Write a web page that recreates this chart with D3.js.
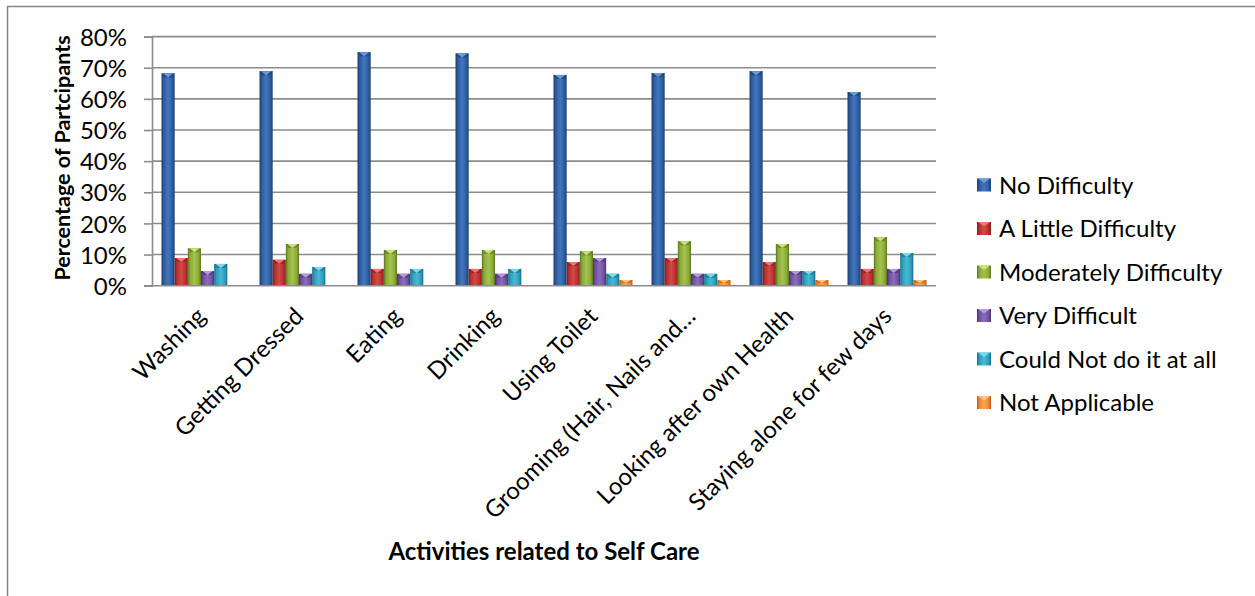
<!DOCTYPE html>
<html><head><meta charset="utf-8">
<script src="https://cdn.jsdelivr.net/npm/d3@7"></script>
<style>
html,body{margin:0;padding:0;background:#fff;}
svg{display:block;font-family:Lato,"Open Sans",sans-serif;}
</style></head>
<body><svg id="chart" width="1255" height="596"></svg>
<script>
const categories = ["Washing","Getting Dressed","Eating","Drinking","Using Toilet","Grooming (Hair, Nails and…","Looking after own Health","Staying alone for few days"];
const seriesNames = ["No Difficulty","A Little Difficulty","Moderately Difficulty","Very Difficult","Could Not do it at all","Not Applicable"];
const noDifficulty      = [68.2, 68.9, 75.0, 74.6, 67.7, 68.3, 68.9, 62.2];
const littleDifficulty  = [8.9, 8.3, 5.4, 5.4, 7.6, 8.9, 7.6, 5.4];
const moderateDifficulty= [12.0, 13.4, 11.5, 11.5, 11.1, 14.3, 13.4, 15.6];
const veryDifficult     = [4.7, 3.8, 3.8, 3.8, 8.9, 3.8, 4.7, 5.4];
const couldNot          = [7.0, 6.0, 5.4, 5.4, 3.8, 3.8, 4.7, 10.5];
const notApplicable     = [0, 0, 0, 0, 1.8, 1.8, 1.8, 1.8];
const yTicks = [0,10,20,30,40,50,60,70,80];
const seriesValues = [noDifficulty, littleDifficulty, moderateDifficulty, veryDifficult, couldNot, notApplicable];

const colors = [
  {base:"#2D5D9E", light:"#4377BE", dark:"#1C3E6E", top:"#6C9BDB"},
  {base:"#B9302D", light:"#D3494A", dark:"#7E1E1C", top:"#EE7774"},
  {base:"#8AAA3A", light:"#A3C24E", dark:"#5C7520", top:"#C9E27A"},
  {base:"#7052A0", light:"#8A6CBA", dark:"#4A3272", top:"#B39BDB"},
  {base:"#2E9FBD", light:"#48B8D6", dark:"#1B6E86", top:"#7DD8EE"},
  {base:"#EF8A32", light:"#F9A452", dark:"#B35E18", top:"#FFC27F"}
];

const svg = d3.select("#chart");
const defs = svg.append("defs");
colors.forEach((c,i)=>{
  const g = defs.append("linearGradient").attr("id","g"+i).attr("x1","0").attr("x2","1").attr("y1","0").attr("y2","0");
  g.append("stop").attr("offset","0%").attr("stop-color",c.dark);
  g.append("stop").attr("offset","18%").attr("stop-color",c.base);
  g.append("stop").attr("offset","50%").attr("stop-color",c.light);
  g.append("stop").attr("offset","82%").attr("stop-color",c.base);
  g.append("stop").attr("offset","100%").attr("stop-color",c.dark);
});

// outer border
svg.append("rect").attr("x",7.5).attr("y",6.5).attr("width",1260).attr("height",600)
  .attr("fill","none").attr("stroke","#868686").attr("stroke-width",1.5);

const plotLeft = 152, plotRight = 936, plotTop = 36.6, plotBottom = 285.7;
const x0 = d3.scaleBand().domain(categories).range([plotLeft,plotRight]).paddingInner(0).paddingOuter(0);
const groupPad = 9.5;
const x1 = d3.scaleBand().domain(d3.range(seriesNames.length)).range([groupPad, x0.bandwidth()-groupPad]).padding(0);
const y = d3.scaleLinear().domain([0,80]).range([plotBottom, plotTop]);

// gridlines
svg.append("g").selectAll("line").data(yTicks.filter(d=>d>0)).join("line")
  .attr("x1",plotLeft).attr("x2",plotRight).attr("y1",d=>y(d)).attr("y2",d=>y(d))
  .attr("stroke","#8c8c8c").attr("stroke-width",1.6);

// y axis
const yAxis = d3.axisLeft(y).tickValues(yTicks).tickFormat(d=>d+"%").tickSize(8).tickPadding(17);
const ya = svg.append("g").attr("transform",`translate(${plotLeft},0)`).call(yAxis);
ya.select(".domain").attr("stroke","#8c8c8c").attr("stroke-width",1.6);
ya.selectAll(".tick line").attr("stroke","#8c8c8c").attr("stroke-width",1.6);
ya.selectAll("text").attr("font-size","24px").attr("fill","#000").attr("font-family","Lato, sans-serif").attr("dy","0.36em");

// bars
const groups = svg.append("g").selectAll("g").data(categories).join("g")
  .attr("transform",d=>`translate(${x0(d)},0)`);
groups.each(function(cat,ci){
  const g = d3.select(this);
  seriesValues.forEach((vals,si)=>{
    const v = vals[ci];
    if (v<=0) return;
    const bx = x1(si), bw = x1.bandwidth(), by = y(v), bh = plotBottom - y(v);
    g.append("rect").attr("x",bx).attr("y",by).attr("width",bw).attr("height",bh).attr("fill",`url(#g${si})`);
    const bev = Math.min(4, bh/2);
    g.append("path").attr("d",`M${bx},${by}L${bx+bw},${by}L${bx+bw-2.5},${by+bev}L${bx+2.5},${by+bev}Z`)
      .attr("fill",colors[si].dark).attr("opacity",0.6);
    g.append("path").attr("d",`M${bx+1.5},${by}L${bx+bw-1.5},${by}L${bx+bw/2},${by+bev}Z`)
      .attr("fill",colors[si].top);
  });
});

// x axis baseline
svg.append("line").attr("x1",plotLeft-8).attr("x2",plotRight).attr("y1",plotBottom).attr("y2",plotBottom)
  .attr("stroke","#8c8c8c").attr("stroke-width",1.6);

// x tick labels
svg.append("g").selectAll("text").data(categories).join("text")
  .attr("transform",d=>`translate(${x0(d)+x0.bandwidth()/2+6},${plotBottom+32}) rotate(-45)`)
  .attr("text-anchor","end").attr("font-size","24px").attr("fill","#000")
  .text(d=>d);

// axis titles
svg.append("text").attr("transform",`translate(70,158) rotate(-90)`).attr("text-anchor","middle")
  .attr("font-size","21.5px").attr("font-weight","bold").text("Percentage of Partcipants");
svg.append("text").attr("x",544).attr("y",560).attr("text-anchor","middle")
  .attr("font-size","24px").attr("font-weight","bold").text("Activities related to Self Care");

// legend
const legend = svg.append("g").selectAll("g").data(seriesNames).join("g")
  .attr("transform",(d,i)=>`translate(977,${185+i*43.5})`);
legend.append("rect").attr("x",0).attr("y",-6.5).attr("width",14).attr("height",13).attr("fill",(d,i)=>`url(#g${i})`);
legend.append("path").attr("d","M1,-6.5L13,-6.5L7,-2Z").attr("fill",(d,i)=>colors[i].top);
legend.append("text").attr("x",22).attr("y",0).attr("dy","0.36em").attr("font-size","24px").attr("fill","#000").text(d=>d);
</script></body></html>
